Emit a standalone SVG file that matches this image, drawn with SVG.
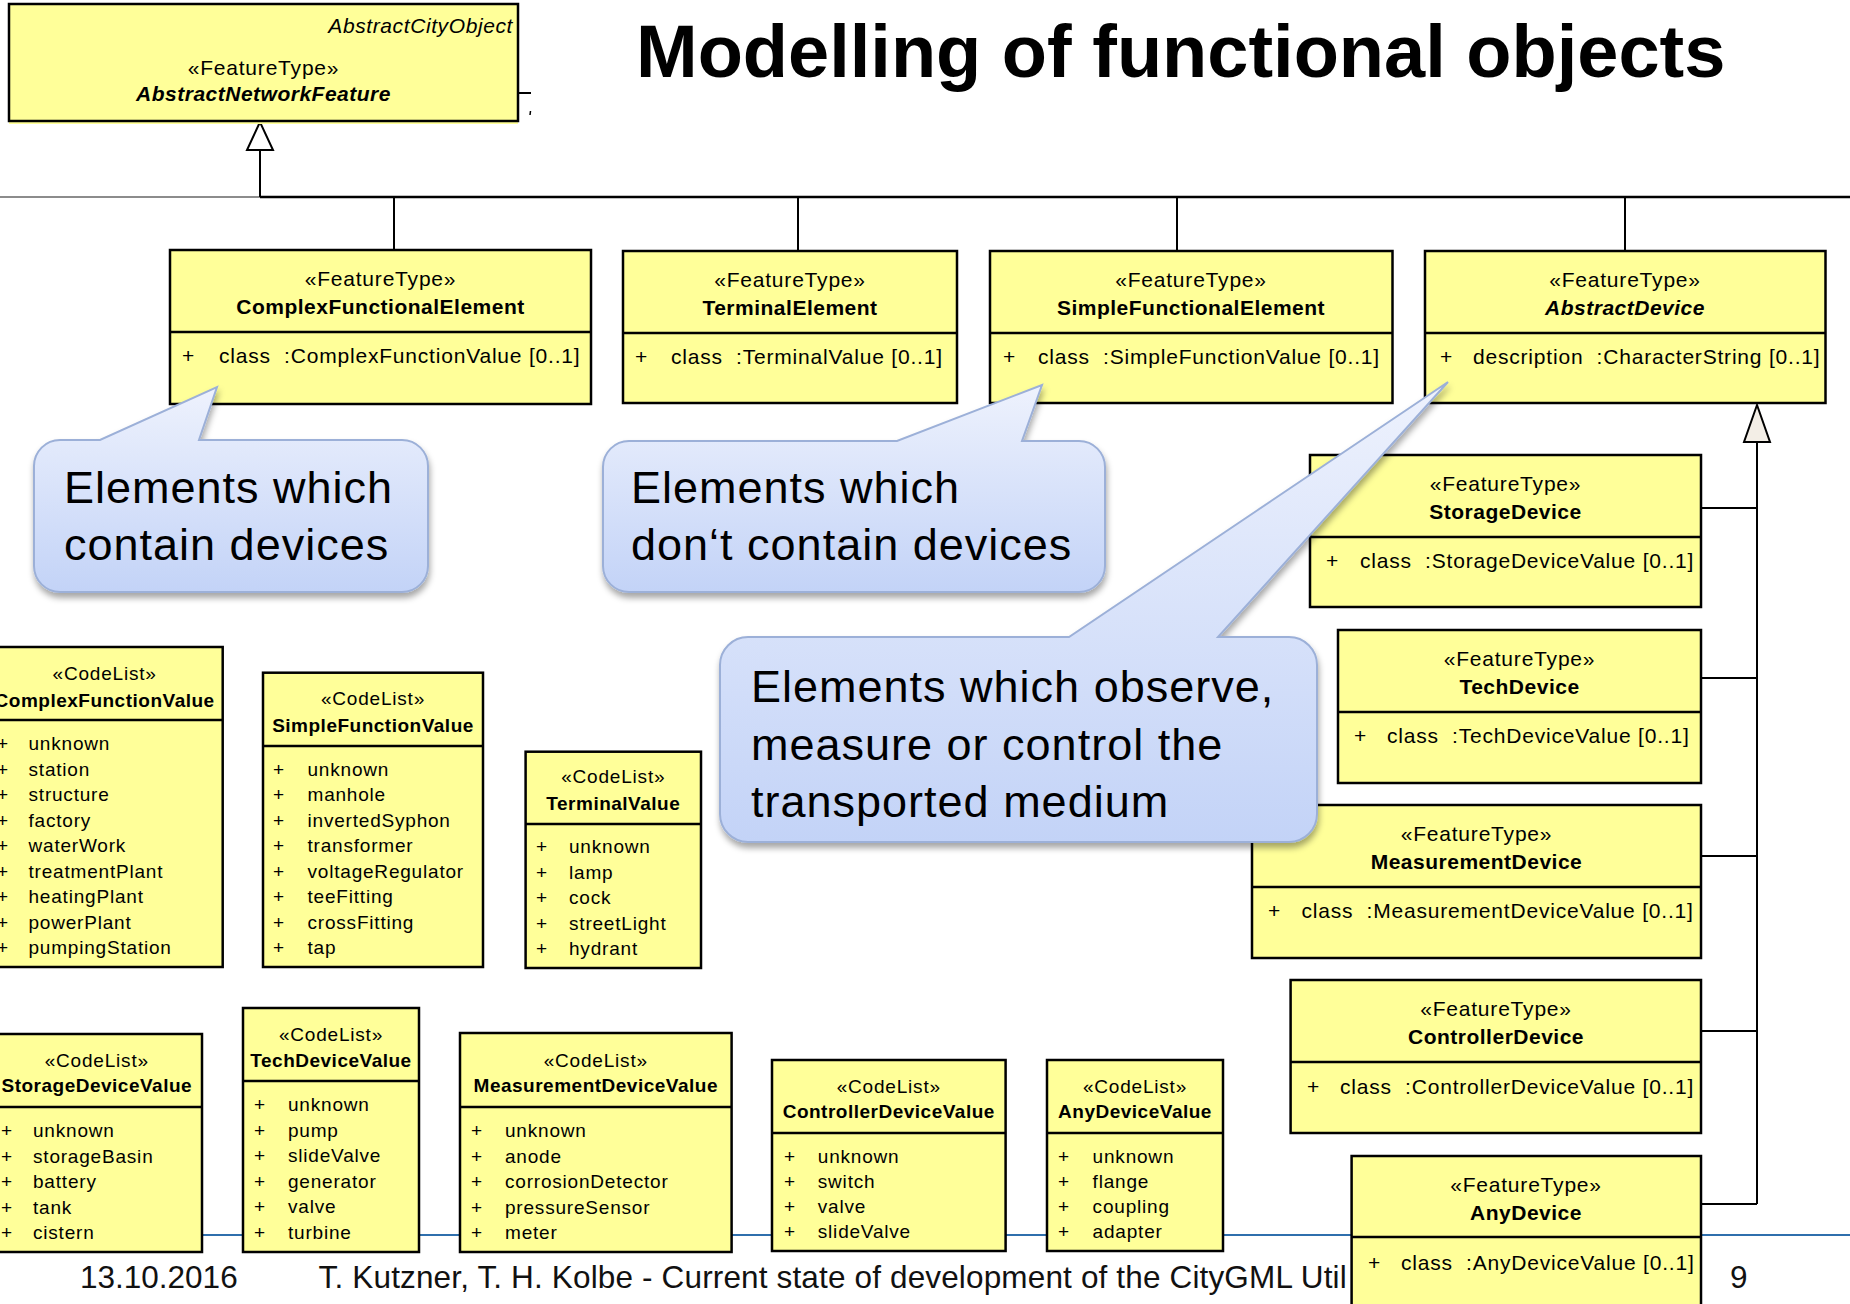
<svg xmlns="http://www.w3.org/2000/svg" width="1850" height="1304" viewBox="0 0 1850 1304">
<defs>
<linearGradient id="cg" x1="0" y1="0" x2="0" y2="1">
<stop offset="0" stop-color="#eef2fd"/>
<stop offset="1" stop-color="#c3d3f7"/>
</linearGradient>
<filter id="sh" x="-10%" y="-10%" width="120%" height="135%">
<feDropShadow dx="1" dy="5" stdDeviation="3" flood-color="#000" flood-opacity="0.35"/>
</filter>
</defs>
<style>
.box{fill:#ffff99;stroke:#000;stroke-width:2.5}
.dv{stroke:#000;stroke-width:2.5}
.ln{stroke:#000;stroke-width:2;fill:none}
text{font-family:"Liberation Sans",Arial,sans-serif;fill:#000}
.st{font-size:21px;letter-spacing:0.8px;text-anchor:middle}
.nm{font-size:21px;font-weight:bold;letter-spacing:0.5px;text-anchor:middle}
.at{font-size:21px;letter-spacing:0.8px;white-space:pre}
.cs{font-size:19px;letter-spacing:0.8px;text-anchor:middle}
.cn{font-size:19px;font-weight:bold;letter-spacing:0.5px;text-anchor:middle}
.ci{font-size:19px;letter-spacing:0.8px}
.co{fill:url(#cg);stroke:#9cb0d8;stroke-width:2;filter:url(#sh)}
.ct{font-size:45px;letter-spacing:1px}
.ft{font-size:31.5px;fill:#111}
</style>
<rect x="0" y="0" width="1850" height="1304" fill="#fff"/>

<text id="title" x="636" y="77" style="font-size:74px;font-weight:bold">Modelling of functional objects</text>

<g id="footer">
<line x1="0" y1="1235" x2="1850" y2="1235" stroke="#2f6fad" stroke-width="2"/>
<text class="ft" x="80" y="1288">13.10.2016</text>
<text class="ft" x="318.6" y="1288" style="letter-spacing:0.15px">T. Kutzner, T. H. Kolbe - Current state of development of the CityGML Util</text>
<text class="ft" x="1730" y="1288">9</text>
</g>

<g id="connectors">
<line x1="0" y1="197" x2="260" y2="197" stroke="#666" stroke-width="1.6"/>
<line x1="260" y1="197" x2="1850" y2="197" stroke="#000" stroke-width="2.5"/>
<line class="ln" x1="260" y1="150" x2="260" y2="197"/>
<polygon points="260,122 247,150 273,150" fill="#fff" stroke="#000" stroke-width="2"/>
<line class="ln" x1="394" y1="197" x2="394" y2="250"/>
<line class="ln" x1="798" y1="197" x2="798" y2="251"/>
<line class="ln" x1="1177" y1="197" x2="1177" y2="251"/>
<line class="ln" x1="1625" y1="197" x2="1625" y2="251"/>
<line class="ln" x1="1757" y1="442" x2="1757" y2="1204"/>
<polygon points="1757,405 1744,442 1770,442" fill="#f3eee6" stroke="#000" stroke-width="2"/>
<line class="ln" x1="1701" y1="508" x2="1757" y2="508"/>
<line class="ln" x1="1701" y1="678" x2="1757" y2="678"/>
<line class="ln" x1="1701" y1="856" x2="1757" y2="856"/>
<line class="ln" x1="1701" y1="1031" x2="1757" y2="1031"/>
<line class="ln" x1="1701" y1="1204" x2="1757" y2="1204"/>
<line class="ln" x1="519" y1="93" x2="531" y2="93"/>
<line x1="530.5" y1="111" x2="530" y2="115" stroke="#000" stroke-width="1.5"/>
</g>

<g id="AbstractNetworkFeature">
<rect x="9" y="121" width="509" height="3" fill="#ffff99"/>
<rect class="box" x="9" y="4" width="509" height="117"/>
<text x="513" y="33" style="font-size:21px;font-style:italic;letter-spacing:0.6px;text-anchor:end">AbstractCityObject</text>
<text class="st" x="263.5" y="75">«FeatureType»</text>
<text class="nm" x="263.5" y="101" style="font-style:italic">AbstractNetworkFeature</text>
</g>

<g id="ComplexFunctionalElement">
<rect class="box" x="170" y="250" width="421" height="154"/>
<line class="dv" x1="170" y1="332" x2="591" y2="332"/>
<text class="st" x="380.5" y="286">«FeatureType»</text>
<text class="nm" x="380.5" y="314">ComplexFunctionalElement</text>
<text class="at" x="182" y="363">+</text>
<text class="at" x="219" y="363">class  :ComplexFunctionValue [0..1]</text>
</g>

<g id="TerminalElement">
<rect class="box" x="623" y="251" width="334" height="152"/>
<line class="dv" x1="623" y1="333" x2="957" y2="333"/>
<text class="st" x="790" y="287">«FeatureType»</text>
<text class="nm" x="790" y="315">TerminalElement</text>
<text class="at" x="635" y="364">+</text>
<text class="at" x="671" y="364">class  :TerminalValue [0..1]</text>
</g>

<g id="SimpleFunctionalElement">
<rect class="box" x="990" y="251" width="402.5" height="152"/>
<line class="dv" x1="990" y1="333" x2="1392.5" y2="333"/>
<text class="st" x="1191" y="287">«FeatureType»</text>
<text class="nm" x="1191" y="315">SimpleFunctionalElement</text>
<text class="at" x="1003" y="364">+</text>
<text class="at" x="1038" y="364">class  :SimpleFunctionValue [0..1]</text>
</g>

<g id="AbstractDevice">
<rect class="box" x="1425" y="251" width="400.5" height="152"/>
<line class="dv" x1="1425" y1="333" x2="1825.5" y2="333"/>
<text class="st" x="1625" y="287">«FeatureType»</text>
<text class="nm" x="1625" y="315" style="font-style:italic">AbstractDevice</text>
<text class="at" x="1440" y="364">+</text>
<text class="at" x="1473" y="364">description  :CharacterString [0..1]</text>
</g>

<g id="StorageDevice">
<rect class="box" x="1310" y="455" width="391" height="152"/>
<line class="dv" x1="1310" y1="537" x2="1701" y2="537"/>
<text class="st" x="1505.5" y="491">«FeatureType»</text>
<text class="nm" x="1505.5" y="519">StorageDevice</text>
<text class="at" x="1326" y="568">+</text>
<text class="at" x="1360" y="568">class  :StorageDeviceValue [0..1]</text>
</g>

<g id="TechDevice">
<rect class="box" x="1338" y="630" width="363" height="153"/>
<line class="dv" x1="1338" y1="712" x2="1701" y2="712"/>
<text class="st" x="1519.5" y="666">«FeatureType»</text>
<text class="nm" x="1519.5" y="694">TechDevice</text>
<text class="at" x="1354" y="743">+</text>
<text class="at" x="1387" y="743">class  :TechDeviceValue [0..1]</text>
</g>

<g id="MeasurementDevice">
<rect class="box" x="1252" y="805" width="449" height="153"/>
<line class="dv" x1="1252" y1="887" x2="1701" y2="887"/>
<text class="st" x="1476.5" y="841">«FeatureType»</text>
<text class="nm" x="1476.5" y="869">MeasurementDevice</text>
<text class="at" x="1268" y="918">+</text>
<text class="at" x="1301.5" y="918">class  :MeasurementDeviceValue [0..1]</text>
</g>

<g id="ControllerDevice">
<rect class="box" x="1290.6" y="980" width="410.4" height="153"/>
<line class="dv" x1="1290.6" y1="1062" x2="1701" y2="1062"/>
<text class="st" x="1496" y="1016">«FeatureType»</text>
<text class="nm" x="1496" y="1044">ControllerDevice</text>
<text class="at" x="1307" y="1094">+</text>
<text class="at" x="1340" y="1094">class  :ControllerDeviceValue [0..1]</text>
</g>

<g id="AnyDevice">
<rect class="box" x="1351.6" y="1156" width="349.4" height="160"/>
<line class="dv" x1="1351.6" y1="1237" x2="1701" y2="1237"/>
<text class="st" x="1526" y="1192">«FeatureType»</text>
<text class="nm" x="1526" y="1220">AnyDevice</text>
<text class="at" x="1368" y="1270">+</text>
<text class="at" x="1401" y="1270">class  :AnyDeviceValue [0..1]</text>
</g>

<g id="ComplexFunctionValue">
<rect class="box" x="-14" y="647" width="236.7" height="320"/>
<line class="dv" x1="-14" y1="720" x2="222.7" y2="720"/>
<text class="cs" x="104.6" y="680">«CodeList»</text>
<text class="cn" x="104.6" y="707">ComplexFunctionValue</text>
<text class="ci" y="750"><tspan x="-3">+</tspan><tspan x="28.5">unknown</tspan></text>
<text class="ci" y="775.5"><tspan x="-3">+</tspan><tspan x="28.5">station</tspan></text>
<text class="ci" y="801"><tspan x="-3">+</tspan><tspan x="28.5">structure</tspan></text>
<text class="ci" y="826.5"><tspan x="-3">+</tspan><tspan x="28.5">factory</tspan></text>
<text class="ci" y="852"><tspan x="-3">+</tspan><tspan x="28.5">waterWork</tspan></text>
<text class="ci" y="877.5"><tspan x="-3">+</tspan><tspan x="28.5">treatmentPlant</tspan></text>
<text class="ci" y="903"><tspan x="-3">+</tspan><tspan x="28.5">heatingPlant</tspan></text>
<text class="ci" y="928.5"><tspan x="-3">+</tspan><tspan x="28.5">powerPlant</tspan></text>
<text class="ci" y="954"><tspan x="-3">+</tspan><tspan x="28.5">pumpingStation</tspan></text>
</g>

<g id="SimpleFunctionValue">
<rect class="box" x="263" y="672.7" width="220" height="294.3"/>
<line class="dv" x1="263" y1="746" x2="483" y2="746"/>
<text class="cs" x="373" y="705">«CodeList»</text>
<text class="cn" x="373" y="732">SimpleFunctionValue</text>
<text class="ci" y="775.5"><tspan x="273">+</tspan><tspan x="307.5">unknown</tspan></text>
<text class="ci" y="801"><tspan x="273">+</tspan><tspan x="307.5">manhole</tspan></text>
<text class="ci" y="826.5"><tspan x="273">+</tspan><tspan x="307.5">invertedSyphon</tspan></text>
<text class="ci" y="852"><tspan x="273">+</tspan><tspan x="307.5">transformer</tspan></text>
<text class="ci" y="877.5"><tspan x="273">+</tspan><tspan x="307.5">voltageRegulator</tspan></text>
<text class="ci" y="903"><tspan x="273">+</tspan><tspan x="307.5">teeFitting</tspan></text>
<text class="ci" y="928.5"><tspan x="273">+</tspan><tspan x="307.5">crossFitting</tspan></text>
<text class="ci" y="954"><tspan x="273">+</tspan><tspan x="307.5">tap</tspan></text>
</g>

<g id="TerminalValue">
<rect class="box" x="525.6" y="751.7" width="175.4" height="216.3"/>
<line class="dv" x1="525.6" y1="824" x2="701" y2="824"/>
<text class="cs" x="613.3" y="783">«CodeList»</text>
<text class="cn" x="613.3" y="810">TerminalValue</text>
<text class="ci" y="853"><tspan x="536">+</tspan><tspan x="569">unknown</tspan></text>
<text class="ci" y="878.5"><tspan x="536">+</tspan><tspan x="569">lamp</tspan></text>
<text class="ci" y="904"><tspan x="536">+</tspan><tspan x="569">cock</tspan></text>
<text class="ci" y="929.5"><tspan x="536">+</tspan><tspan x="569">streetLight</tspan></text>
<text class="ci" y="955"><tspan x="536">+</tspan><tspan x="569">hydrant</tspan></text>
</g>

<g id="StorageDeviceValue">
<rect class="box" x="-8.5" y="1034" width="210.5" height="218"/>
<line class="dv" x1="-8.5" y1="1107" x2="202" y2="1107"/>
<text class="cs" x="96.8" y="1067">«CodeList»</text>
<text class="cn" x="96.8" y="1092">StorageDeviceValue</text>
<text class="ci" y="1137"><tspan x="1">+</tspan><tspan x="33">unknown</tspan></text>
<text class="ci" y="1162.5"><tspan x="1">+</tspan><tspan x="33">storageBasin</tspan></text>
<text class="ci" y="1188"><tspan x="1">+</tspan><tspan x="33">battery</tspan></text>
<text class="ci" y="1213.5"><tspan x="1">+</tspan><tspan x="33">tank</tspan></text>
<text class="ci" y="1239"><tspan x="1">+</tspan><tspan x="33">cistern</tspan></text>
</g>

<g id="TechDeviceValue">
<rect class="box" x="243" y="1008" width="176" height="244"/>
<line class="dv" x1="243" y1="1081" x2="419" y2="1081"/>
<text class="cs" x="331" y="1041">«CodeList»</text>
<text class="cn" x="331" y="1067">TechDeviceValue</text>
<text class="ci" y="1111"><tspan x="254">+</tspan><tspan x="288">unknown</tspan></text>
<text class="ci" y="1136.5"><tspan x="254">+</tspan><tspan x="288">pump</tspan></text>
<text class="ci" y="1162"><tspan x="254">+</tspan><tspan x="288">slideValve</tspan></text>
<text class="ci" y="1187.5"><tspan x="254">+</tspan><tspan x="288">generator</tspan></text>
<text class="ci" y="1213"><tspan x="254">+</tspan><tspan x="288">valve</tspan></text>
<text class="ci" y="1238.5"><tspan x="254">+</tspan><tspan x="288">turbine</tspan></text>
</g>

<g id="MeasurementDeviceValue">
<rect class="box" x="460" y="1033" width="271.6" height="219"/>
<line class="dv" x1="460" y1="1107" x2="731.6" y2="1107"/>
<text class="cs" x="595.8" y="1067">«CodeList»</text>
<text class="cn" x="595.8" y="1092">MeasurementDeviceValue</text>
<text class="ci" y="1137"><tspan x="471">+</tspan><tspan x="505">unknown</tspan></text>
<text class="ci" y="1162.5"><tspan x="471">+</tspan><tspan x="505">anode</tspan></text>
<text class="ci" y="1188"><tspan x="471">+</tspan><tspan x="505">corrosionDetector</tspan></text>
<text class="ci" y="1213.5"><tspan x="471">+</tspan><tspan x="505">pressureSensor</tspan></text>
<text class="ci" y="1239"><tspan x="471">+</tspan><tspan x="505">meter</tspan></text>
</g>

<g id="ControllerDeviceValue">
<rect class="box" x="772" y="1060" width="233.6" height="191"/>
<line class="dv" x1="772" y1="1133" x2="1005.6" y2="1133"/>
<text class="cs" x="888.8" y="1093">«CodeList»</text>
<text class="cn" x="888.8" y="1118">ControllerDeviceValue</text>
<text class="ci" y="1163"><tspan x="784">+</tspan><tspan x="817.8">unknown</tspan></text>
<text class="ci" y="1188"><tspan x="784">+</tspan><tspan x="817.8">switch</tspan></text>
<text class="ci" y="1213"><tspan x="784">+</tspan><tspan x="817.8">valve</tspan></text>
<text class="ci" y="1238"><tspan x="784">+</tspan><tspan x="817.8">slideValve</tspan></text>
</g>

<g id="AnyDeviceValue">
<rect class="box" x="1047" y="1060" width="176" height="191"/>
<line class="dv" x1="1047" y1="1133" x2="1223" y2="1133"/>
<text class="cs" x="1135" y="1093">«CodeList»</text>
<text class="cn" x="1135" y="1118">AnyDeviceValue</text>
<text class="ci" y="1163"><tspan x="1058">+</tspan><tspan x="1092.6">unknown</tspan></text>
<text class="ci" y="1188"><tspan x="1058">+</tspan><tspan x="1092.6">flange</tspan></text>
<text class="ci" y="1213"><tspan x="1058">+</tspan><tspan x="1092.6">coupling</tspan></text>
<text class="ci" y="1238"><tspan x="1058">+</tspan><tspan x="1092.6">adapter</tspan></text>
</g>

<g id="callout1">
<path class="co" d="M60,440 H100 L217,387 L199,440 H402 A26,26 0 0 1 428,466 V566 A26,26 0 0 1 402,592 H60 A26,26 0 0 1 34,566 V466 A26,26 0 0 1 60,440 Z"/>
<text class="ct" x="64" y="503">Elements which</text>
<text class="ct" x="64" y="560">contain devices</text>
</g>

<g id="callout2">
<path class="co" d="M629,441 H897 L1042,385 L1022,441 H1079 A26,26 0 0 1 1105,467 V566 A26,26 0 0 1 1079,592 H629 A26,26 0 0 1 603,566 V467 A26,26 0 0 1 629,441 Z"/>
<text class="ct" x="631" y="503">Elements which</text>
<text class="ct" x="631" y="560">don‘t contain devices</text>
</g>

<g id="callout3">
<path class="co" d="M748,637 H1069 L1448,382 L1218,637 H1289 A28,28 0 0 1 1317,665 V814 A28,28 0 0 1 1289,842 H748 A28,28 0 0 1 720,814 V665 A28,28 0 0 1 748,637 Z"/>
<text class="ct" x="751" y="702">Elements which observe,</text>
<text class="ct" x="751" y="760">measure or control the</text>
<text class="ct" x="751" y="817">transported medium</text>
</g>
</svg>
